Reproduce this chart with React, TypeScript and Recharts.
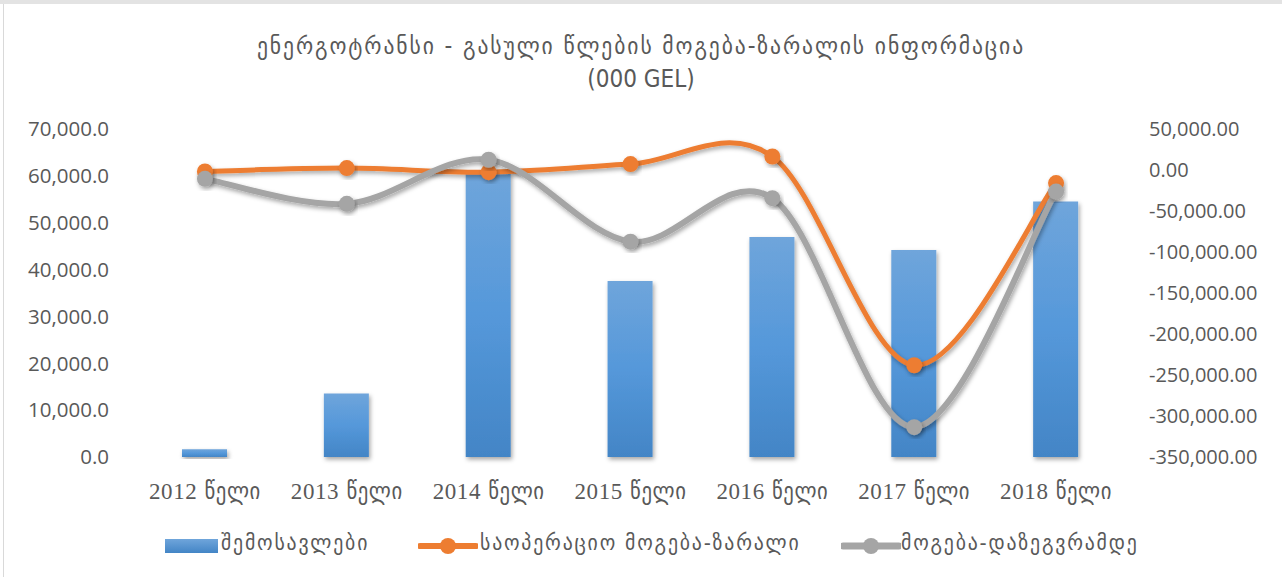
import React from "react";
import { ComposedChart, Bar, Line, XAxis, YAxis } from "recharts";

const categories = ["2012 წელი", "2013 წელი", "2014 წელი", "2015 წელი", "2016 წელი", "2017 წელი", "2018 წელი"];
const revenue = [1650, 13560, 60800, 37570, 46970, 44200, 54520];
const operatingProfit = [-1800, 2300, -2600, 7200, 16500, -238100, -16000];
const profitBeforeTax = [-10800, -41300, 12500, -87400, -34400, -313600, -26300];
const leftTicks = [0, 10000, 20000, 30000, 40000, 50000, 60000, 70000];
const rightTicks = [-350000, -300000, -250000, -200000, -150000, -100000, -50000, 0, 50000];
const seriesNames = ["შემოსავლები", "საოპერაციო მოგება-ზარალი", "მოგება-დაზეგვრამდე"];
const titleLines = ["ენერგოტრანსი - გასული წლების მოგება-ზარალის ინფორმაცია", "(000 GEL)"];

const data = categories.map((c, i) => ({
  name: c,
  revenue: revenue[i],
  op: operatingProfit[i],
  pbt: profitBeforeTax[i],
}));

const ORANGE = "#ED7D31";
const GRAY = "#A5A5A5";
const TEXT = "#595959";
const GEO_FONT = "'DejaVu Sans Condensed', 'DejaVu Sans', sans-serif";
const NUM_FONT = "'Open Sans', sans-serif";

// Excel-like smoothed line (Catmull-Rom via cubic Bezier)
function smoothCurve(context: any) {
  let pts: [number, number][] = [];
  return {
    areaStart() {},
    areaEnd() {},
    lineStart() {
      pts = [];
    },
    point(x: number, y: number) {
      pts.push([+x, +y]);
    },
    lineEnd() {
      if (!pts.length) return;
      context.moveTo(pts[0][0], pts[0][1]);
      for (let i = 0; i < pts.length - 1; i++) {
        const p0 = pts[i - 1] || pts[i];
        const p1 = pts[i];
        const p2 = pts[i + 1];
        const p3 = pts[i + 2] || p2;
        context.bezierCurveTo(
          p1[0] + (p2[0] - p0[0]) / 6,
          p1[1] + (p2[1] - p0[1]) / 6,
          p2[0] - (p3[0] - p1[0]) / 6,
          p2[1] - (p3[1] - p1[1]) / 6,
          p2[0],
          p2[1]
        );
      }
    },
  };
}

const fmt1 = (v: number) =>
  v.toLocaleString("en-US", { minimumFractionDigits: 1, maximumFractionDigits: 1 });
const fmt2 = (v: number) =>
  v.toLocaleString("en-US", { minimumFractionDigits: 2, maximumFractionDigits: 2 });

const XTick = (props: any) => {
  const { x, y, payload } = props;
  const [year, word] = String(payload.value).split(" ");
  return (
    <text x={x} y={y} textAnchor="middle" fill={TEXT} fontSize={23} dy={24} letterSpacing={0.6}>
      <tspan fontFamily="'Liberation Serif', serif">{year}</tspan>
      <tspan fontFamily={GEO_FONT}> {word}</tspan>
    </text>
  );
};

export default function App() {
  return (
    <div
      style={{
        position: "absolute",
        left: 0,
        top: 0,
        width: 1282,
        height: 577,
        background: "#fff",
        overflow: "hidden",
      }}
    >
      <div style={{ position: "absolute", left: 0, top: 0, width: 1282, height: 4, background: "#e3e3e3" }} />
      <div style={{ position: "absolute", left: 3, top: 4, width: 1, height: 573, background: "#d9d9d9" }} />
      <div
        style={{
          position: "absolute",
          left: 0,
          top: 30,
          width: 1282,
          textAlign: "center",
          color: TEXT,
          fontFamily: GEO_FONT,
          fontSize: 24,
          lineHeight: "33px",
        }}
      >
        <div style={{ letterSpacing: "1.9px" }}>{titleLines[0]}</div>
        <div>{titleLines[1]}</div>
      </div>
      <div style={{ position: "absolute", left: 0, top: 0 }}>
        <ComposedChart
          width={1282}
          height={577}
          data={data}
          margin={{ top: 129, right: 0, left: 0, bottom: 0 }}
        >
          <defs>
            <linearGradient id="barGrad" x1="0" y1="0" x2="0" y2="1">
              <stop offset="0%" stopColor="#6FA5DB" />
              <stop offset="50%" stopColor="#5598DA" />
              <stop offset="100%" stopColor="#4385C6" />
            </linearGradient>
            <filter id="shadow" x="-20%" y="-20%" width="140%" height="140%">
              <feDropShadow dx="1.5" dy="2.5" stdDeviation="2" floodColor="#000" floodOpacity="0.35" />
            </filter>
          </defs>
          <XAxis
            dataKey="name"
            height={120}
            axisLine={false}
            tickLine={false}
            tickSize={0}
            tickMargin={18}
            tick={<XTick />}
            interval={0}
          />
          <YAxis
            yAxisId="left"
            orientation="left"
            width={134}
            domain={[0, 70000]}
            ticks={leftTicks}
            tickFormatter={fmt1}
            axisLine={false}
            tickLine={false}
            tickSize={0}
            tickMargin={25}
            tick={{ fill: TEXT, fontSize: 20.5, fontFamily: NUM_FONT }}
          />
          <YAxis
            yAxisId="right"
            orientation="right"
            width={155}
            domain={[-350000, 50000]}
            ticks={rightTicks}
            tickFormatter={fmt2}
            axisLine={false}
            tickLine={false}
            tickSize={0}
            tickMargin={22}
            tick={{ fill: TEXT, fontSize: 20, fontFamily: NUM_FONT, textAnchor: "start" }}
          />
          <Bar
            yAxisId="left"
            dataKey="revenue"
            name={seriesNames[0]}
            fill="url(#barGrad)"
            barSize={45}
            filter="url(#shadow)"
            isAnimationActive={false}
          />
          <Line
            yAxisId="right"
            dataKey="op"
            name={seriesNames[1]}
            type={smoothCurve as any}
            stroke={ORANGE}
            strokeWidth={5}
            dot={{ r: 8, fill: ORANGE, stroke: ORANGE, strokeWidth: 0 }}
            filter="url(#shadow)"
            isAnimationActive={false}
          />
          <Line
            yAxisId="right"
            dataKey="pbt"
            name={seriesNames[2]}
            type={smoothCurve as any}
            stroke={GRAY}
            strokeWidth={6}
            dot={{ r: 8, fill: GRAY, stroke: GRAY, strokeWidth: 0 }}
            filter="url(#shadow)"
            isAnimationActive={false}
          />
        </ComposedChart>
      </div>
      <div
        style={{
          position: "absolute",
          left: 0,
          top: 530,
          width: 1282,
          height: 32,
          color: TEXT,
          fontFamily: GEO_FONT,
          fontSize: 22,
          letterSpacing: "1.8px",
        }}
      >
        <div style={{ position: "absolute", left: 165, top: 9, width: 53, height: 14, background: "linear-gradient(#6FA5DB,#4385C6)" }} />
        <div style={{ position: "absolute", left: 221, top: 0, whiteSpace: "nowrap" }}>{seriesNames[0]}</div>
        <svg style={{ position: "absolute", left: 418, top: 4 }} width={60} height={24}>
          <line x1={2} y1={12} x2={58} y2={12} stroke={ORANGE} strokeWidth={6} strokeLinecap="round" />
          <circle cx={30} cy={12} r={8} fill={ORANGE} />
        </svg>
        <div style={{ position: "absolute", left: 480, top: 0, whiteSpace: "nowrap" }}>{seriesNames[1]}</div>
        <svg style={{ position: "absolute", left: 841, top: 4 }} width={60} height={24}>
          <line x1={2} y1={12} x2={58} y2={12} stroke={GRAY} strokeWidth={7} strokeLinecap="round" />
          <circle cx={30} cy={12} r={8} fill={GRAY} />
        </svg>
        <div style={{ position: "absolute", left: 901, top: 0, whiteSpace: "nowrap" }}>{seriesNames[2]}</div>
      </div>
    </div>
  );
}
